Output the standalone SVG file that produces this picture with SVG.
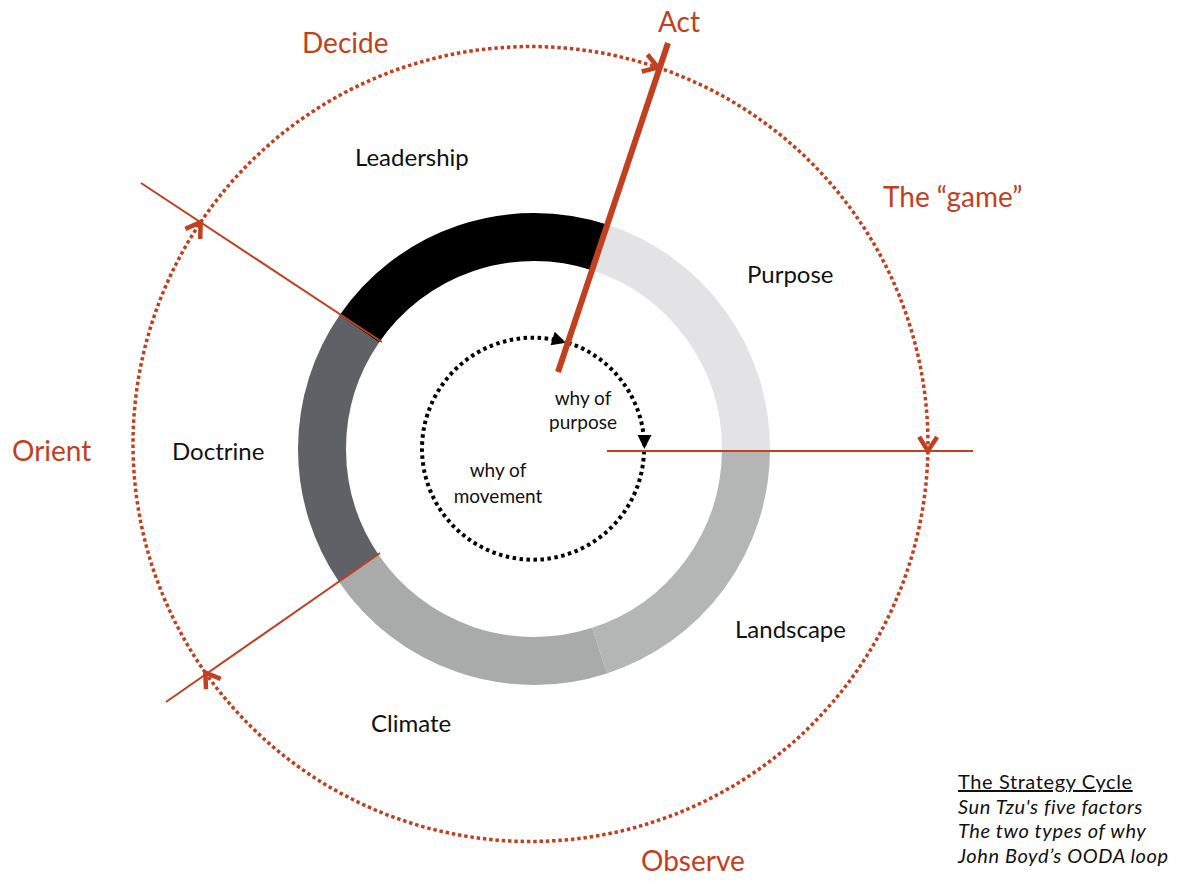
<svg xmlns="http://www.w3.org/2000/svg" width="1185" height="884" viewBox="0 0 1185 884">
  <defs>
    <style>
      .red { fill: #c1401f; font-family: Lato, "Liberation Sans", sans-serif; font-size: 28px; }
      .lbl { fill: #111; font-family: Lato, "Liberation Sans", sans-serif; font-size: 24px; }
      .why { fill: #111; font-family: Lato, "Liberation Sans", sans-serif; font-size: 19px; text-anchor: middle; }
      .note { fill: #111; font-family: Lato, "Liberation Sans", sans-serif; font-size: 20px; letter-spacing: 0.6px; }
      .seg { fill: none; stroke-width: 48; }
      .outer { fill: none; stroke: #c1401f; stroke-width: 3.5; stroke-dasharray: 3.5 2.8; }
      .inner { fill: none; stroke: #000; stroke-width: 4; stroke-dasharray: 3.5 3.5; }
      .thin { stroke: #c1401f; stroke-width: 2; }
    </style>
    <marker id="chev" markerUnits="userSpaceOnUse" viewBox="-20 -14 26 28" refX="0" refY="0" markerWidth="26" markerHeight="28" orient="auto">
      <path d="M-14,-9 L0,0 L-14,9" fill="none" stroke="#c1401f" stroke-width="4.5" stroke-linejoin="miter"/>
    </marker>
    <marker id="tri" markerUnits="userSpaceOnUse" viewBox="-16 -10 20 20" refX="0" refY="0" markerWidth="20" markerHeight="20" orient="auto">
      <path d="M-14,-7 L0,0 L-14,7 Z" fill="#000" stroke="none"/>
    </marker>
  </defs>
  <rect width="1185" height="884" fill="#fff"/>

  <g id="ring">
    <g id="purpose-seg"><path class="seg" stroke="#e3e3e6" d="M599.5,247.4 A212,212 0 0 1 746,450.8"/></g>
    <g id="landscape-seg"><path class="seg" stroke="#b4b5b5" d="M746,450.8 A212,212 0 0 1 599.5,650.6"/></g>
    <g id="climate-seg"><path class="seg" stroke="#a9abab" d="M599.5,650.6 A212,212 0 0 1 358.9,568.5"/></g>
    <g id="doctrine-seg"><path class="seg" stroke="#5e6166" d="M358.9,568.5 A212,212 0 0 1 359.3,328.9"/></g>
    <g id="leadership-seg"><path class="seg" stroke="#000" d="M359.3,328.9 A212,212 0 0 1 599.5,247.4"/></g>
  </g>

  <g id="connectors">
    <path class="outer" marker-end="url(#chev)" d="M927.9,450.9 A397.5,397.5 0 0 1 205.3,672.6"/>
    <path class="outer" marker-end="url(#chev)" d="M205.3,672.6 A397.5,397.5 0 0 1 200.6,222.3"/>
    <path class="outer" marker-end="url(#chev)" d="M200.6,222.3 A397.5,397.5 0 0 1 657.9,67.5"/>
    <path class="outer" marker-end="url(#chev)" d="M657.9,67.5 A397.5,397.5 0 0 1 927.9,450.9"/>
    <path class="inner" marker-end="url(#tri)" d="M644,451 A111,111 0 1 1 566,342.7"/>
    <path class="inner" marker-end="url(#tri)" d="M568.2,342.7 A111,111 0 0 1 644.4,449"/>
    <line class="thin" x1="141" y1="183" x2="382" y2="342"/>
    <line class="thin" x1="166" y1="702" x2="380" y2="553"/>
    <line class="thin" x1="607" y1="451" x2="973" y2="451"/>
    <line x1="668" y1="43" x2="558" y2="372" stroke="#c1401f" stroke-width="6"/>
  </g>

  <g id="act"><text class="red" x="658" y="32">Act</text></g>
  <g id="decide"><text class="red" x="302" y="53">Decide</text></g>
  <g id="game"><text class="red" x="883" y="207">The “game”</text></g>
  <g id="orient"><text class="red" x="12" y="461">Orient</text></g>
  <g id="observe"><text class="red" x="641" y="871">Observe</text></g>

  <g id="leadership"><text class="lbl" x="355" y="166">Leadership</text></g>
  <g id="purpose"><text class="lbl" x="747" y="283">Purpose</text></g>
  <g id="landscape"><text class="lbl" x="735" y="638">Landscape</text></g>
  <g id="doctrine"><text class="lbl" x="172" y="460">Doctrine</text></g>
  <g id="climate"><text class="lbl" x="371" y="732">Climate</text></g>

  <g id="why-purpose">
    <text class="why" x="583" y="405">why of</text>
    <text class="why" x="583" y="429">purpose</text>
  </g>
  <g id="why-movement">
    <text class="why" x="498" y="477">why of</text>
    <text class="why" x="498" y="503">movement</text>
  </g>

  <g id="legend">
    <text class="note" x="958" y="789" text-decoration="underline">The Strategy Cycle</text>
    <text class="note" x="958" y="813.5" font-style="italic">Sun Tzu's five factors</text>
    <text class="note" x="958" y="838" font-style="italic">The two types of why</text>
    <text class="note" x="958" y="862.5" font-style="italic">John Boyd’s OODA loop</text>
  </g>
</svg>
